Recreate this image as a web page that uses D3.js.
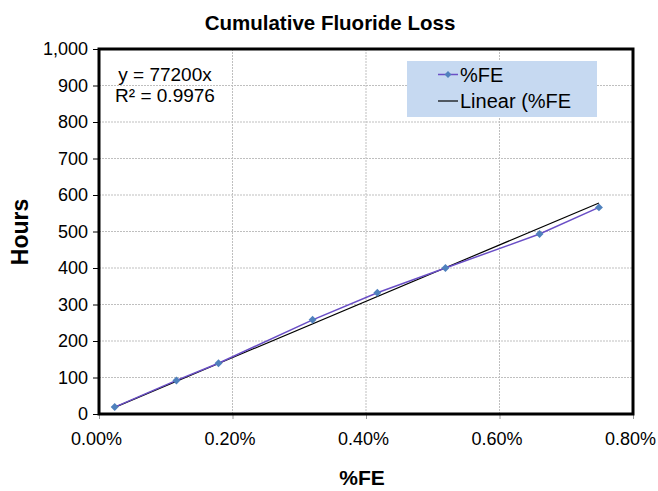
<!DOCTYPE html>
<html>
<head>
<meta charset="utf-8">
<script src="https://cdn.jsdelivr.net/npm/d3@7"></script>
<style>
  body { margin: 0; background: #fff; }
  text { font-family: "Liberation Sans", Arial, sans-serif; }
</style>
</head>
<body>
<script>
// data (%FE as fraction, hours)
var feValues = [0.000235, 0.00116, 0.00179, 0.0032, 0.00417, 0.00519, 0.0066, 0.00749];
var hourValues = [19, 92, 139, 258, 332, 400, 493, 566];
var xTicks = [0, 0.002, 0.004, 0.006, 0.008];
var yTicks = [0, 100, 200, 300, 400, 500, 600, 700, 800, 900, 1000];
var slope = 77200;

var margin = {top: 49, right: 25, bottom: 77, left: 99},
    width = 658 - margin.left - margin.right,
    height = 491 - margin.top - margin.bottom;

var x = d3.scaleLinear().domain([0, 0.008]).range([0, width]);
var y = d3.scaleLinear().domain([0, 1000]).range([height, 0]);

var svgRoot = d3.select("body").append("svg")
    .attr("width", 658).attr("height", 491);

var svg = svgRoot.append("g")
    .attr("transform", "translate(" + margin.left + "," + margin.top + ")");

// gridlines
svg.append("g")
    .selectAll("line").data(yTicks.slice(1)).enter().append("line")
    .attr("x1", 0).attr("x2", width)
    .attr("y1", function(d){ return y(d); }).attr("y2", function(d){ return y(d); })
    .attr("stroke", "#bfbfbf").attr("stroke-dasharray", "2,1");
svg.append("g")
    .selectAll("line").data(xTicks.slice(1)).enter().append("line")
    .attr("y1", 0).attr("y2", height)
    .attr("x1", function(d){ return x(d); }).attr("x2", function(d){ return x(d); })
    .attr("stroke", "#bfbfbf").attr("stroke-dasharray", "2,1");

// axes
var fmtPct = d3.format(".2%");
var xAxis = svg.append("g")
    .attr("transform", "translate(0," + height + ")")
    .call(d3.axisBottom(x).tickValues(xTicks).tickFormat(fmtPct).tickSize(5).tickSizeOuter(0).tickPadding(13));
var yAxis = svg.append("g")
    .call(d3.axisLeft(y).tickValues(yTicks).tickFormat(d3.format(",")).tickSize(6).tickSizeOuter(0).tickPadding(5));
[xAxis, yAxis].forEach(function(a){
    a.select(".domain").remove();
    a.selectAll("text").style("font-size", "18px").attr("fill", "#000")
        .style("font-family", "'Liberation Sans', Arial, sans-serif");
    a.selectAll(".tick line").attr("stroke", "#000");
});
xAxis.selectAll(".tick line").attr("stroke", "#999");
xAxis.selectAll("text").attr("dx", -3);

// plot border
svg.append("rect")
    .attr("x", 0).attr("y", 0).attr("width", width).attr("height", height)
    .attr("fill", "none").attr("stroke", "#000").attr("stroke-width", 3);

// linear trendline across data range
var xMin = d3.min(feValues), xMax = d3.max(feValues);
svg.append("line")
    .attr("x1", x(xMin)).attr("y1", y(slope * xMin))
    .attr("x2", x(xMax)).attr("y2", y(slope * xMax))
    .attr("stroke", "#000").attr("stroke-width", 1.2);

// data series
var pts = feValues.map(function(v, i){ return [v, hourValues[i]]; });
svg.append("path")
    .datum(pts)
    .attr("fill", "none")
    .attr("stroke", "#6a4fc6")
    .attr("stroke-width", 1.5)
    .attr("d", d3.line().x(function(d){ return x(d[0]); }).y(function(d){ return y(d[1]); }));

svg.selectAll(".pt").data(pts).enter().append("path")
    .attr("class", "pt")
    .attr("transform", function(d){ return "translate(" + x(d[0]) + "," + y(d[1]) + ")"; })
    .attr("d", d3.symbol().type(d3.symbolDiamond2).size(40))
    .attr("fill", "#4f81bd");

// equation
svg.append("text").attr("x", 66).attr("y", 31.5).attr("text-anchor", "middle")
    .style("font-size", "19px").text("y = 77200x");
svg.append("text").attr("x", 66).attr("y", 53).attr("text-anchor", "middle")
    .style("font-size", "19px").text("R² = 0.9976");

// legend
var lg = svg.append("g").attr("transform", "translate(308,12)");
lg.append("rect").attr("width", 190).attr("height", 56).attr("fill", "#c6d9f1");
lg.append("line").attr("x1", 31).attr("x2", 51).attr("y1", 13.5).attr("y2", 13.5)
    .attr("stroke", "#6a4fc6").attr("stroke-width", 1.5);
lg.append("path").attr("transform", "translate(41,13.5)")
    .attr("d", d3.symbol().type(d3.symbolDiamond2).size(30)).attr("fill", "#4f81bd");
lg.append("text").attr("x", 53).attr("y", 20.5).style("font-size", "20px").text("%FE");
lg.append("line").attr("x1", 31).attr("x2", 51).attr("y1", 40).attr("y2", 40)
    .attr("stroke", "#000").attr("stroke-width", 1.2);
lg.append("text").attr("x", 53).attr("y", 47).style("font-size", "20px").text("Linear (%FE");

// title
svgRoot.append("text")
    .attr("x", 330).attr("y", 30)
    .attr("text-anchor", "middle")
    .style("font-size", "20.5px").style("font-weight", "bold")
    .text("Cumulative Fluoride Loss");

// x axis label
svgRoot.append("text")
    .attr("x", 362).attr("y", 485)
    .attr("text-anchor", "middle")
    .style("font-size", "21px").style("font-weight", "bold")
    .text("%FE");

// y axis label
svgRoot.append("text")
    .attr("transform", "rotate(-90)")
    .attr("x", -232).attr("y", 28)
    .attr("text-anchor", "middle")
    .style("font-size", "23px").style("font-weight", "bold")
    .text("Hours");
</script>
</body>
</html>
